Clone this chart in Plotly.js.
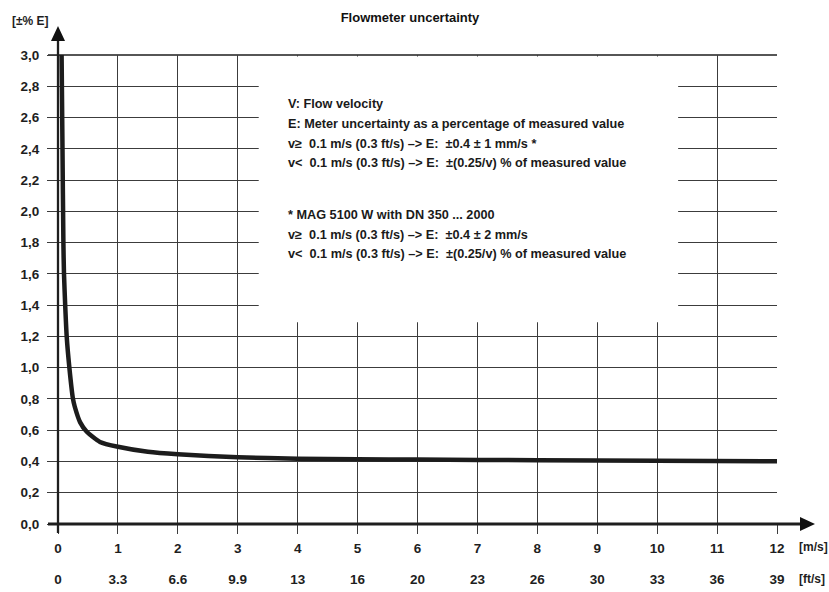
<!DOCTYPE html>
<html>
<head>
<meta charset="utf-8">
<script src="https://cdn.plot.ly/plotly-3.0.1.min.js"></script>
<style>html,body{margin:0;padding:0;background:#fff}</style>
</head>
<body>
<div id="chart" style="width:829px;height:592px"></div>
<script>
// Data
const velocity = [0.06, 0.075, 0.09, 0.10, 0.12, 0.145, 0.19, 0.25, 0.28, 0.37, 0.48, 0.70, 1.0, 1.5, 2, 3, 4, 5, 6, 8, 10, 12];
const uncertainty = [3.0, 2.4, 1.8, 1.6, 1.4, 1.2, 1.0, 0.8, 0.75, 0.65, 0.59, 0.525, 0.494, 0.462, 0.446, 0.427, 0.418, 0.414, 0.412, 0.408, 0.404, 0.401];

const yTickVals = [0, 0.2, 0.4, 0.6, 0.8, 1.0, 1.2, 1.4, 1.6, 1.8, 2.0, 2.2, 2.4, 2.6, 2.8, 3.0];
const yTickText = ['0,0','0,2','0,4','0,6','0,8','1,0','1,2','1,4','1,6','1,8','2,0','2,2','2,4','2,6','2,8','3,0'];
const xTickVals = [0,1,2,3,4,5,6,7,8,9,10,11,12];
const xTickTextMs = ['0','1','2','3','4','5','6','7','8','9','10','11','12'];
const xTickTextFts = ['0','3.3','6.6','9.9','13','16','20','23','26','30','33','36','39'];

const noteLines = [
  'V: Flow velocity',
  'E: Meter uncertainty as a percentage of measured value',
  'v\u2265  0.1 m/s (0.3 ft/s) \u2013> E:  \u00b10.4 \u00b1 1 mm/s *',
  'v<  0.1 m/s (0.3 ft/s) \u2013> E:  \u00b1(0.25/v) % of measured value',
  '* MAG 5100 W with DN 350 ... 2000',
  'v\u2265  0.1 m/s (0.3 ft/s) \u2013> E:  \u00b10.4 \u00b1 2 mm/s',
  'v<  0.1 m/s (0.3 ft/s) \u2013> E:  \u00b1(0.25/v) % of measured value'
];
const notePx = [104, 124, 144, 163, 215, 235, 254];

const FONT = 'Liberation Sans, Arial, Helvetica, sans-serif';
const INK = '#1e1e1e';
const GRID = '#3c3c3c';

// plot area: x 58..777, y 55..524
const L = 58, R = 777, T = 55, B = 524;
const px2x = p => (p - L) / (R - L);
const py2y = p => (B - p) / (B - T);

const annotations = noteLines.map((t, i) => ({
  text: t, xref: 'paper', yref: 'paper', x: px2x(286), y: py2y(notePx[i]),
  xanchor: 'left', yanchor: 'middle', showarrow: false,
  font: {family: FONT, size: 12.7, color: '#1a1a1a', weight: 'bold'}
}));
annotations.push(
  {text: '[\u00b1% E]', xref: 'paper', yref: 'paper', x: px2x(30), y: py2y(21), xanchor: 'center', yanchor: 'middle', showarrow: false, font: {family: FONT, size: 12, color: INK, weight: 'bold'}},
  {text: '[m/s]', xref: 'paper', yref: 'paper', x: px2x(797), y: py2y(547), xanchor: 'left', yanchor: 'middle', showarrow: false, font: {family: FONT, size: 12, color: INK, weight: 'bold'}},
  {text: '[ft/s]', xref: 'paper', yref: 'paper', x: px2x(797), y: py2y(579), xanchor: 'left', yanchor: 'middle', showarrow: false, font: {family: FONT, size: 12, color: INK, weight: 'bold'}}
);

const shapes = [
  // white notes panel hiding the grid
  {type: 'rect', xref: 'x', yref: 'y', x0: 3.35, x1: 10.35, y0: 1.29, y1: 2.99, fillcolor: '#fff', line: {width: 0}, layer: 'between'},
  // top line
  {type: 'line', xref: 'paper', yref: 'paper', x0: px2x(48), x1: 1, y0: 1, y1: 1, line: {color: INK, width: 1.5}, layer: 'between'},
  // y axis with arrow
  {type: 'line', xref: 'paper', yref: 'paper', x0: 0, x1: 0, y0: py2y(533), y1: py2y(41), line: {color: INK, width: 2.3}},
  {type: 'path', xref: 'paper', yref: 'paper', path: `M ${px2x(51)},${py2y(41)} L ${px2x(65)},${py2y(41)} L ${px2x(58)},${py2y(26)} Z`, fillcolor: '#111', line: {width: 0}},
  // x axis with arrow
  {type: 'line', xref: 'paper', yref: 'paper', x0: px2x(48), x1: px2x(802), y0: 0, y1: 0, line: {color: INK, width: 3}},
  {type: 'path', xref: 'paper', yref: 'paper', path: `M ${px2x(800)},${py2y(517)} L ${px2x(800)},${py2y(531)} L ${px2x(815)},${py2y(524)} Z`, fillcolor: '#111', line: {width: 0}}
];

const tickFont = {family: FONT, size: 13.5, color: INK, weight: 'bold'};

const data = [
  {x: velocity, y: uncertainty, type: 'scatter', mode: 'lines', line: {color: '#1c1c1c', width: 4.5, shape: 'spline', smoothing: 0.6}, hoverinfo: 'skip'},
  {x: [0, 12], y: [null, null], xaxis: 'x2', type: 'scatter', mode: 'lines', showlegend: false, hoverinfo: 'skip'}
];

const layout = {
  width: 829, height: 592,
  margin: {l: L, r: 829 - R, t: T, b: 592 - B, pad: 0},
  paper_bgcolor: '#fff', plot_bgcolor: '#fff',
  showlegend: false,
  title: {text: 'Flowmeter uncertainty', x: 410 / 829, xref: 'container', xanchor: 'center', y: 1 - 17 / 592, yanchor: 'middle', font: {family: FONT, size: 13, color: '#111', weight: 'bold'}},
  xaxis: {
    range: [0, 12], tickvals: xTickVals, ticktext: xTickTextMs,
    showgrid: true, gridcolor: GRID, gridwidth: 1, zeroline: false, showline: false,
    ticks: 'outside', ticklen: 9, tickwidth: 1, tickcolor: GRID,
    ticklabelstandoff: 3, tickfont: tickFont, fixedrange: true
  },
  xaxis2: {
    range: [0, 12], overlaying: 'x', side: 'bottom', anchor: 'y',
    tickvals: xTickVals, ticktext: xTickTextFts,
    showgrid: false, zeroline: false, showline: false, ticks: '',
    ticklabelstandoff: 45, tickfont: tickFont, fixedrange: true
  },
  yaxis: {
    range: [0, 3], tickvals: yTickVals, ticktext: yTickText,
    showgrid: true, gridcolor: GRID, gridwidth: 1, zeroline: false, showline: false,
    ticks: 'outside', ticklen: 10, tickwidth: 1, tickcolor: GRID,
    ticklabelstandoff: 5, tickfont: tickFont, fixedrange: true
  },
  shapes: shapes,
  annotations: annotations
};

Plotly.newPlot('chart', data, layout, {displayModeBar: false, staticPlot: true});
</script>
</body>
</html>
